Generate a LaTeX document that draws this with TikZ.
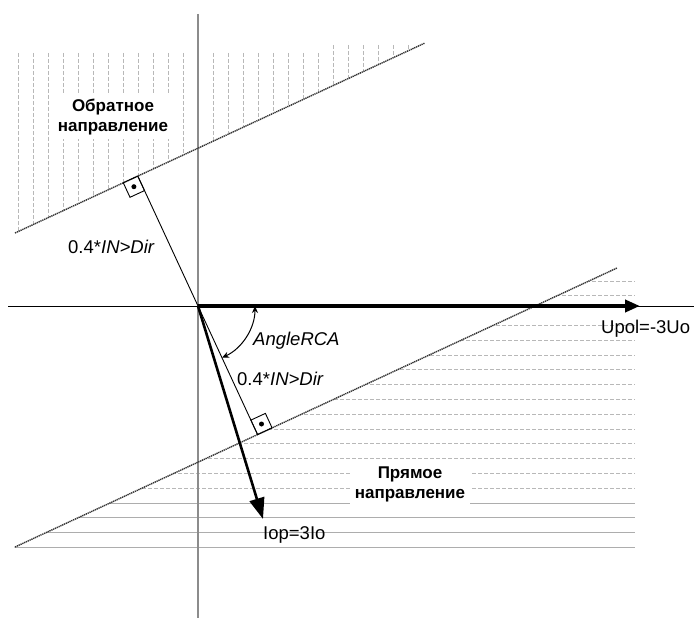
\documentclass[tikz,border=0pt]{standalone}
\usepackage{fontspec}
\setmainfont{Liberation Sans}
\usetikzlibrary{arrows.meta}
\begin{document}
\begin{tikzpicture}[x=1pt,y=-1pt,
  hatch/.style={draw=black!28, line width=0.8pt, dash pattern=on 4pt off 2pt},
  hatchsolid/.style={draw=black!32, line width=0.9pt},
  boundary/.style={draw=black!80, line width=1.4pt, dash pattern=on 1.3pt off 0.7pt},
  axisv/.style={draw=black!45, line width=1.5pt},
  axish/.style={draw=black, line width=0.9pt},
  vecU/.style={draw=black, line width=4pt, -{Triangle[length=15pt,width=12pt]}},
  vecI/.style={draw=black, line width=2.6pt, -{Triangle[length=21pt,width=15pt]}},
  thinline/.style={draw=black, line width=0.9pt},
  anglearc/.style={draw=black, line width=1pt, {Stealth[length=7pt,width=6pt]}-{Stealth[length=7pt,width=6pt]}},
  lbl/.style={font=\fontsize{18.5}{21}\selectfont, inner sep=0pt, anchor=west},
  region/.style={font=\bfseries\fontsize{17}{20}\selectfont, align=center, fill=white, inner xsep=5pt, inner ysep=4pt},
  rightsq/.style={draw=black, line width=0.9pt}
]
\useasboundingbox (0,0) rectangle (694,618);

% key points
\coordinate (O) at (198,306);
\coordinate (P1a) at (15,233);
\coordinate (P1b) at (425,43);
\coordinate (P2a) at (15,547);
\coordinate (P2b) at (617,268);
\coordinate (F1) at (137.8,176.1);
\coordinate (F2) at (257.6,434.6);
\coordinate (Utip) at (640,306);
\coordinate (Itip) at (263,519);
\coordinate (Vtop) at (198,14);
\coordinate (Vbot) at (198,618);
\coordinate (Hl) at (8,306);
\coordinate (Hr) at (694,306);

% upper hatching (vertical dashed)
\begin{scope}
  \clip (15,233) -- (425,43) -- (425,30) -- (15,30) -- cycle;
  \foreach \x in {18,33,...,183} \draw[hatch] (\x,53) -- (\x,240);
  \foreach \x in {213,228,...,318} \draw[hatch] (\x,53) -- (\x,200);
  \foreach \x in {333,348,...,410} \draw[hatch] (\x,45) -- (\x,140);
\end{scope}

% lower hatching (horizontal)
\begin{scope}
  \clip (15,547) -- (617,268) -- (636,260) -- (636,552) -- (10,552) -- cycle;
  \foreach \k in {0,1,3,4,...,14} \draw[hatch] (10,281+14.8*\k) -- (635,281+14.8*\k);
  \foreach \k in {15,...,18} \draw[hatchsolid] (10,281+14.8*\k) -- (635,281+14.8*\k);
\end{scope}

% region labels
\node[region] (back) at (113,117) {Обратное\\направление};
\node[region] (fwd) at (410,484) {Прямое\\направление};

% axes
\draw[axisv] (Vtop) -- (Vbot);
\draw[axish] (Hl) -- (Hr);

% boundary lines
\draw[boundary] (P1a) -- (P1b);
\draw[boundary] (P2a) -- (P2b);

% RCA perpendicular line
\draw[thinline] (F1) -- (F2);

% right angle markers
\draw[rightsq] (F1) -- (123.3,182.8) -- (130.0,197.3) -- (144.5,190.6) -- cycle;
\fill (133.9,186.7) circle (2.5pt);
\draw[rightsq] (F2) -- (272.1,427.9) -- (265.4,413.4) -- (250.9,420.1) -- cycle;
\fill (261.5,424.0) circle (2.5pt);

% vectors
\draw[vecU] (O) -- (Utip);
\draw[vecI] (O) -- (Itip);

% angle arc
\draw[anglearc] (255,306) arc[start angle=0, end angle=-65.1, radius=57pt];

% labels
\node[lbl] (upol) at (601,329) {Upol=-3Uo};
\node[lbl] (iop) at (263,535) {Iop=3Io};
\node[lbl] (rca) at (253,341) {\textit{AngleRCA}};
\node[lbl] (dirlow) at (237,379) {0.4*\textit{IN>Dir}};
\node[lbl] (dirup) at (68,247) {0.4*\textit{IN>Dir}};
\end{tikzpicture}
\end{document}
